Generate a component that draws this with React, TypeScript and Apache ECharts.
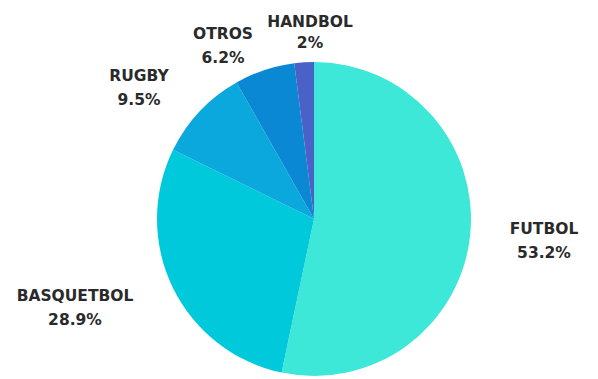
import React, { useEffect, useRef } from "react";
import * as echarts from "echarts";

const categories = ["FUTBOL", "BASQUETBOL", "RUGBY", "OTROS", "HANDBOL"];
const values = [53.2, 28.9, 9.5, 6.2, 2];
const valueLabels = ["53.2%", "28.9%", "9.5%", "6.2%", "2%"];
const colors = ["#3de8d8", "#00c9dc", "#0aa8dc", "#0a88d4", "#4a62c8"];
const labelPos: [number, number][] = [
  [544, 241],
  [75, 308],
  [139, 88],
  [223, 46],
  [310, 32],
];

export default function App() {
  const ref = useRef<HTMLDivElement>(null);
  useEffect(() => {
    if (!ref.current) return;
    const chart = echarts.init(ref.current, null, { renderer: "svg" });
    chart.setOption({
      animation: false,
      backgroundColor: "#ffffff",
      series: [
        {
          type: "pie",
          center: [314, 219],
          radius: [0, 157],
          startAngle: 90,
          clockwise: true,
          avoidLabelOverlap: false,
          data: categories.map((c, i) => ({
            name: c,
            value: values[i],
            itemStyle: { color: colors[i] },
            label: i === 4 ? { lineHeight: 21 } : undefined,
          })),
          label: {
            show: true,
            position: "outside",
            formatter: (p: any) => `${p.name}\n${valueLabels[p.dataIndex]}`,
            fontFamily: "DejaVu Sans",
            fontWeight: "bold",
            fontSize: 15.5,
            lineHeight: 24,
            color: "#2a2a2a",
            align: "center",
          },
          labelLine: { show: false },
          labelLayout: (params: any) => ({
            x: labelPos[params.dataIndex][0],
            y: labelPos[params.dataIndex][1],
            align: "center",
            verticalAlign: "middle",
          }),
        },
      ],
    });
    return () => chart.dispose();
  }, []);
  return (
    <div
      ref={ref}
      style={{ position: "fixed", left: 0, top: 0, width: 598, height: 379 }}
    />
  );
}
